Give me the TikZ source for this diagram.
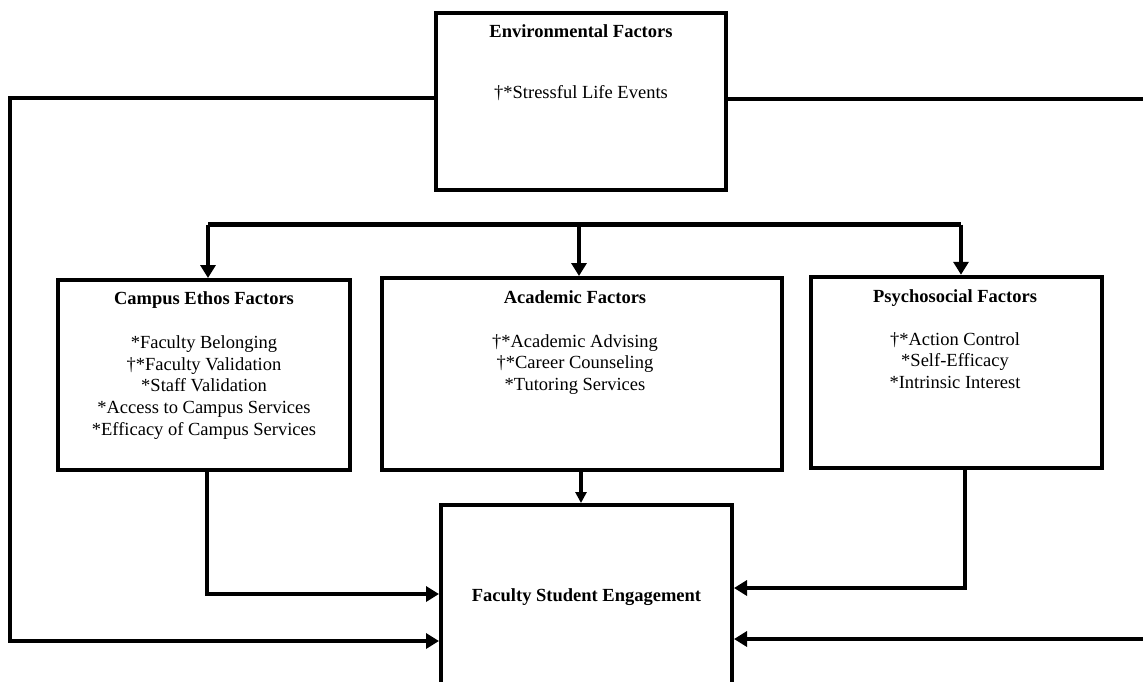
\documentclass[tikz,border=0pt]{standalone}
\usepackage{fontspec}
\setmainfont{Liberation Serif}
\usetikzlibrary{arrows.meta}
\begin{document}
\begin{tikzpicture}[x=1pt,y=-1pt,
  box/.style={draw, line width=4pt, inner sep=0pt},
  conn/.style={line width=4.5pt},
  arr/.style={conn, -{Triangle[length=13pt,width=15pt]}},
  sarr/.style={line width=3.5pt, -{Triangle[length=11pt,width=11pt]}},
  txt/.style={anchor=base, inner sep=0pt, font=\fontsize{18.5}{21.8}\selectfont},
  ttl/.style={anchor=base, inner sep=0pt, font=\fontsize{18.5}{21.8}\selectfont\bfseries}]
\useasboundingbox (0,0) rectangle (1143,681);
\clip (0,0) rectangle (1143,681);
% boxes
\node[box, minimum width=290pt, minimum height=177pt] (env) at (581,101.5) {};
\node[box, minimum width=292pt, minimum height=190pt] (campus) at (204,375) {};
\node[box, minimum width=400pt, minimum height=192pt] (acad) at (582,374) {};
\node[box, minimum width=291pt, minimum height=191.5pt] (psych) at (956,372.5) {};
\node[box, minimum width=291pt, minimum height=215pt] (fse) at (586.5,612.5) {};
% texts
\node[ttl] (envt) at (581,37.5) {Environmental Factors};
\node[txt] (env1) at (581,98.5) {†*Stressful Life Events};
\node[ttl] (campt) at (204,304) {Campus Ethos Factors};
\node[txt] (camp1) at (204,348) {*Faculty Belonging};
\node[txt] (camp2) at (204,370) {†*Faculty Validation};
\node[txt] (camp3) at (204,391.5) {*Staff Validation};
\node[txt] (camp4) at (204,413) {*Access to Campus Services};
\node[txt] (camp5) at (204,435) {*Efficacy of Campus Services};
\node[ttl] (acadt) at (575,303) {Academic Factors};
\node[txt] (acad1) at (575,347) {†*Academic Advising};
\node[txt] (acad2) at (575,368.5) {†*Career Counseling};
\node[txt] (acad3) at (575,390) {*Tutoring Services};
\node[ttl] (psyt) at (955,302.3) {Psychosocial Factors};
\node[txt] (psy1) at (955,345) {†*Action Control};
\node[txt] (psy2) at (955,366.7) {*Self-Efficacy};
\node[txt] (psy3) at (955,388.3) {*Intrinsic Interest};
\node[ttl] (fset) at (586.5,601) {Faculty Student Engagement};
% route coordinates
\coordinate (lt) at (10,98);
\coordinate (lb) at (10,641);
\coordinate (rt) at (1165,99);
\coordinate (rb) at (1165,639);
\coordinate (dl) at (208,224.5);
\coordinate (dm) at (579,224.5);
\coordinate (dr) at (961,224.5);
\coordinate (cb) at (207,594);
\coordinate (am) at (581,0);
\coordinate (pb) at (965,588);
% connectors
\draw[arr] (env.west |- lt) -- (lt) -- (lb) -- (fse.west |- lb);
\draw[arr] (env.east |- rt) -- (rt) -- (rb) -- (fse.east |- rb);
\draw[conn] (dl) -- (dr);
\draw[arr] (dl) -- (dl |- campus.north);
\draw[arr] (dm) -- (dm |- acad.north);
\draw[arr] (dr) -- (dr |- psych.north);
\draw[arr] (cb |- campus.south) -- (cb) -- (fse.west |- cb);
\draw[sarr] (am |- acad.south) -- (am |- fse.north);
\draw[arr] (pb |- psych.south) -- (pb) -- (fse.east |- pb);
\end{tikzpicture}
\end{document}
